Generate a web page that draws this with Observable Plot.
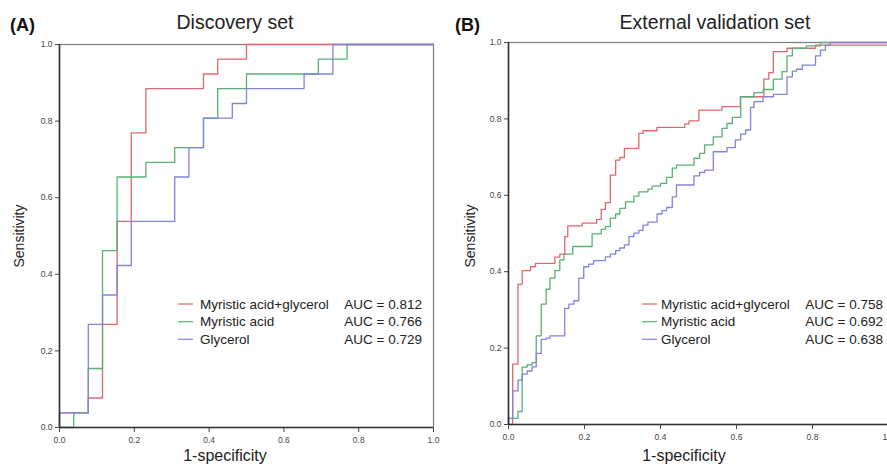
<!DOCTYPE html>
<html><head><meta charset="utf-8">
<script src="https://cdn.jsdelivr.net/npm/d3@7"></script>
<script src="https://cdn.jsdelivr.net/npm/@observablehq/plot@0.6"></script>
<style>
html,body{margin:0;padding:0;background:#fff;overflow:hidden;}
#wrap{position:relative;width:887px;height:464px;overflow:hidden;font-family:"Liberation Sans",Arial,sans-serif;}
#wrap svg{position:absolute;top:0;}
</style></head><body><div id="wrap"></div>
<script>
// ---- data ----
const seriesNames = ["Myristic acid+glycerol", "Myristic acid", "Glycerol"];
const seriesColors = ["#e2666f", "#58b174", "#8283da"];
const aucDiscovery = ["0.812", "0.766", "0.729"];
const aucValidation = ["0.758", "0.692", "0.638"];
const panelTitles = ["Discovery set", "External validation set"];
const panelTags = ["(A)", "(B)"];
const axisTicks = [0, 0.2, 0.4, 0.6, 0.8, 1.0];

// Discovery set (step points: x where the jump happens, y after the jump)
const discComboFpr = [0, 0, 0.077, 0.115, 0.154, 0.192, 0.231, 0.385, 0.423, 0.5, 1];
const discComboTpr = [0, 0.038, 0.077, 0.269, 0.538, 0.769, 0.885, 0.923, 0.962, 1, 1];
const discMyrFpr = [0, 0.038, 0.077, 0.115, 0.154, 0.231, 0.308, 0.385, 0.423, 0.5, 0.692, 0.769, 1];
const discMyrTpr = [0, 0.038, 0.154, 0.462, 0.654, 0.692, 0.731, 0.808, 0.885, 0.923, 0.962, 1, 1];
const discGlyFpr = [0, 0, 0.077, 0.115, 0.154, 0.192, 0.308, 0.346, 0.385, 0.462, 0.5, 0.654, 0.731, 1];
const discGlyTpr = [0, 0.038, 0.269, 0.346, 0.423, 0.538, 0.654, 0.731, 0.808, 0.846, 0.885, 0.923, 1, 1];

// External validation set
const valComboFpr = [0, 0.011, 0.025, 0.036, 0.058, 0.071, 0.122, 0.135, 0.148, 0.156, 0.194, 0.232, 0.244, 0.255, 0.268, 0.282, 0.293, 0.305, 0.343, 0.354, 0.391, 0.464, 0.475, 0.501, 0.562, 0.610, 0.672, 0.685, 0.697, 0.733, 0.808, 1];
const valComboTpr = [0, 0.158, 0.367, 0.403, 0.413, 0.422, 0.438, 0.446, 0.492, 0.520, 0.527, 0.537, 0.563, 0.581, 0.653, 0.692, 0.699, 0.723, 0.762, 0.769, 0.778, 0.787, 0.795, 0.823, 0.832, 0.858, 0.904, 0.921, 0.976, 0.985, 0.993, 1];
const valMyrFpr = [0, 0, 0.025, 0.036, 0.049, 0.062, 0.073, 0.086, 0.099, 0.109, 0.122, 0.135, 0.146, 0.169, 0.220, 0.244, 0.255, 0.268, 0.282, 0.293, 0.308, 0.330, 0.343, 0.367, 0.378, 0.400, 0.416, 0.431, 0.442, 0.488, 0.503, 0.516, 0.539, 0.562, 0.575, 0.589, 0.611, 0.646, 0.670, 0.697, 0.720, 0.733, 0.747, 0.784, 0.821, 1];
const valMyrTpr = [0, 0.016, 0.034, 0.150, 0.156, 0.162, 0.232, 0.315, 0.354, 0.383, 0.403, 0.431, 0.446, 0.466, 0.499, 0.511, 0.518, 0.540, 0.551, 0.566, 0.583, 0.598, 0.609, 0.616, 0.624, 0.631, 0.647, 0.671, 0.679, 0.697, 0.710, 0.732, 0.753, 0.775, 0.788, 0.804, 0.858, 0.869, 0.877, 0.904, 0.924, 0.965, 0.985, 0.991, 1, 1];
const valGlyFpr = [0, 0, 0.011, 0.025, 0.036, 0.049, 0.062, 0.073, 0.086, 0.099, 0.109, 0.148, 0.159, 0.172, 0.185, 0.198, 0.211, 0.224, 0.255, 0.268, 0.282, 0.293, 0.305, 0.317, 0.330, 0.343, 0.354, 0.367, 0.391, 0.404, 0.416, 0.431, 0.442, 0.488, 0.503, 0.516, 0.539, 0.575, 0.597, 0.611, 0.624, 0.637, 0.646, 0.670, 0.697, 0.733, 0.747, 0.758, 0.773, 0.808, 0.821, 0.834, 0.846, 1];
const valGlyTpr = [0, 0.016, 0.088, 0.116, 0.132, 0.140, 0.151, 0.186, 0.223, 0.226, 0.232, 0.304, 0.315, 0.324, 0.383, 0.413, 0.420, 0.429, 0.439, 0.446, 0.455, 0.462, 0.470, 0.492, 0.501, 0.508, 0.522, 0.530, 0.551, 0.560, 0.568, 0.596, 0.627, 0.651, 0.660, 0.666, 0.714, 0.725, 0.745, 0.760, 0.771, 0.830, 0.845, 0.858, 0.864, 0.910, 0.925, 0.930, 0.941, 0.965, 0.980, 0.993, 1, 1];

// ---- build ----
function rows(fpr, tpr) { return fpr.map((x, i) => ({x, y: tpr[i]})); }
const FONT = '"Liberation Sans", Arial, sans-serif';
const wrap = document.getElementById("wrap");

function panel(curves, opts) {
  const marks = [
    Plot.frame({stroke: "#7a7a7a", strokeWidth: 1.2}),
    ...curves.map((c, i) => Plot.line(c, {x: "x", y: "y", curve: "step-after", stroke: seriesColors[i], strokeWidth: 1.3})),
    Plot.ruleX([0], {stroke: "#333", strokeWidth: 1.6}),
    Plot.ruleY([0], {stroke: "#333", strokeWidth: 1.6})
  ];
  const svg = Plot.plot({
    width: opts.width, height: 464,
    marginLeft: opts.ml, marginRight: opts.mr, marginTop: opts.mt, marginBottom: opts.mb,
    x: {domain: [0, 1], ticks: axisTicks, tickFormat: d3.format(".1f"), tickSize: 5, tickPadding: 4, label: null},
    y: {domain: [0, 1], ticks: axisTicks, tickFormat: d3.format(".1f"), tickSize: 4, tickPadding: 3, label: null},
    style: {fontSize: "8.5px", fontFamily: FONT, color: "#444", background: "transparent", overflow: "visible"},
    marks
  });
  svg.style.left = opts.left + "px";
  wrap.appendChild(svg);
}

panel([rows(discComboFpr, discComboTpr), rows(discMyrFpr, discMyrTpr), rows(discGlyFpr, discGlyTpr)],
  {left: 0, width: 445, ml: 59, mr: 12, mt: 44, mb: 37});
panel([rows(valComboFpr, valComboTpr), rows(valMyrFpr, valMyrTpr), rows(valGlyFpr, valGlyTpr)],
  {left: 446, width: 442, ml: 62, mr: 0, mt: 42, mb: 40});

// ---- overlay text: titles, axis labels, legends ----
const ov = d3.select(wrap).append("svg")
  .attr("width", 887).attr("height", 464)
  .style("left", "0px").style("font-family", FONT).style("pointer-events", "none");

const layout = [
  {tagX: 10, titleX: 235, ylabX: 24, xlabX: 225, legLine: 178, legText: 200, aucEnd: 422, auc: aucDiscovery},
  {tagX: 455, titleX: 715, ylabX: 475, xlabX: 684, legLine: 642, legText: 661, aucEnd: 883, auc: aucValidation}
];
const legRows = [304, 321.7, 339.3];

layout.forEach((L, p) => {
  ov.append("text").attr("x", L.tagX).attr("y", 31).attr("font-size", 18).attr("font-weight", "bold").attr("fill", "#111").text(panelTags[p]);
  ov.append("text").attr("x", L.titleX).attr("y", 29).attr("font-size", 19.5).attr("text-anchor", "middle").attr("fill", "#222").text(panelTitles[p]);
  ov.append("text").attr("transform", `translate(${L.ylabX},236) rotate(-90)`).attr("font-size", 14).attr("text-anchor", "middle").attr("fill", "#222").text("Sensitivity");
  ov.append("text").attr("x", L.xlabX).attr("y", 461).attr("font-size", 16).attr("text-anchor", "middle").attr("fill", "#222").text("1-specificity");
  seriesNames.forEach((name, i) => {
    const y = legRows[i];
    ov.append("line").attr("x1", L.legLine).attr("x2", L.legLine + 15).attr("y1", y).attr("y2", y).attr("stroke", seriesColors[i]).attr("stroke-width", 1.2);
    ov.append("text").attr("x", L.legText).attr("y", y + 4.7).attr("font-size", 13.5).attr("fill", "#222").text(name);
    ov.append("text").attr("x", L.aucEnd).attr("y", y + 4.7).attr("font-size", 13.5).attr("text-anchor", "end").attr("fill", "#222").text("AUC = " + L.auc[i]);
  });
});
</script>
</body></html>
